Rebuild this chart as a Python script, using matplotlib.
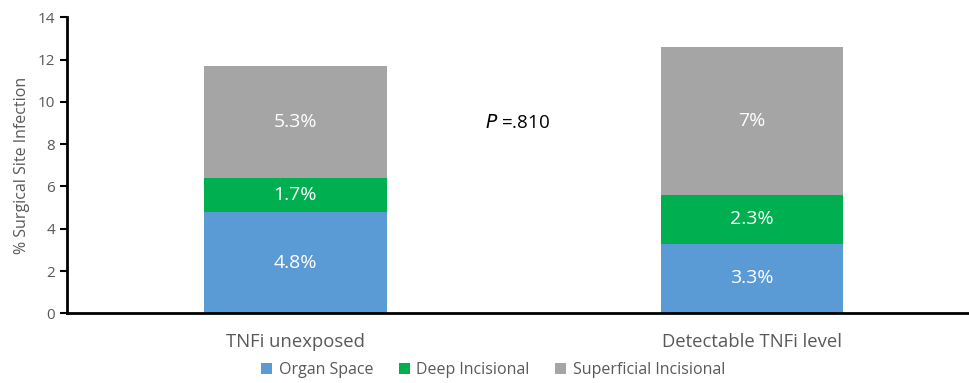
import matplotlib
matplotlib.use("Agg")
import matplotlib.pyplot as plt
import numpy as np

categories = ["TNFi unexposed", "Detectable TNFi level"]
series_names = ["Organ Space", "Deep Incisional", "Superficial Incisional"]
organ_space = [4.8, 3.3]
deep_incisional = [1.6, 2.3]
superficial_incisional = [5.3, 7.0]
organ_labels = ["4.8%", "3.3%"]
deep_labels = ["1.7%", "2.3%"]
superficial_labels = ["5.3%", "7%"]
p_text = ".810"
y_ticks = [0, 2, 4, 6, 8, 10, 12, 14]

colors = ["#5B9BD5", "#00B050", "#A5A5A5"]
plt.rcParams['font.family'] = ['Open Sans', 'DejaVu Sans']
grey = "#595959"

W, H = 969, 383
fig = plt.figure(figsize=(W / 100, H / 100), dpi=100)
left, right, bottom, top = 66.7, 980.5, 313.3, 17.3
ax = fig.add_axes([left / W, 1 - bottom / H, (right - left) / W, (bottom - top) / H])

x = np.arange(len(categories))
series = [organ_space, deep_incisional, superficial_incisional]
labels = [organ_labels, deep_labels, superficial_labels]
base = np.zeros(len(categories))
for vals, lab, col, name in zip(series, labels, colors, series_names):
    bars = ax.bar(x, vals, 0.4, bottom=base, color=col, label=name, zorder=2)
    for xi, b, v, t in zip(x, base, vals, lab):
        ax.text(xi, b + v / 2, t, ha="center", va="center", color="white", fontsize=14)
    base = base + np.array(vals)

ax.text(0.486, 9.0, "$P$ =" + p_text, ha="center", va="center", fontsize=13.5, color="black")

ax.set_xlim(-0.5, 1.5)
ax.set_ylim(0, 14)
ax.set_yticks(y_ticks)
ax.set_xticks(x)
ax.set_xticklabels(categories)
ax.tick_params(axis="y", colors="black", labelcolor=grey, labelsize=11, length=5, width=1.5, direction="out")
ax.tick_params(axis="x", length=0, labelcolor=grey, labelsize=13.3, pad=14)
for s in ["top", "right"]:
    ax.spines[s].set_visible(False)
for s in ["left", "bottom"]:
    ax.spines[s].set_linewidth(2)
    ax.spines[s].set_color("black")
ax.set_ylabel("% Surgical Site Infection", color=grey, fontsize=11.5, labelpad=5)

handles, lbls = ax.get_legend_handles_labels()
fig.legend(handles, lbls, loc="center", bbox_to_anchor=(493 / W, 1 - 370 / H), ncol=3,
           frameon=False, fontsize=11.5, labelcolor=grey, handlelength=0.7, handleheight=0.7,
           handletextpad=0.4, columnspacing=1.6)

fig.savefig("out.png", dpi=100)
